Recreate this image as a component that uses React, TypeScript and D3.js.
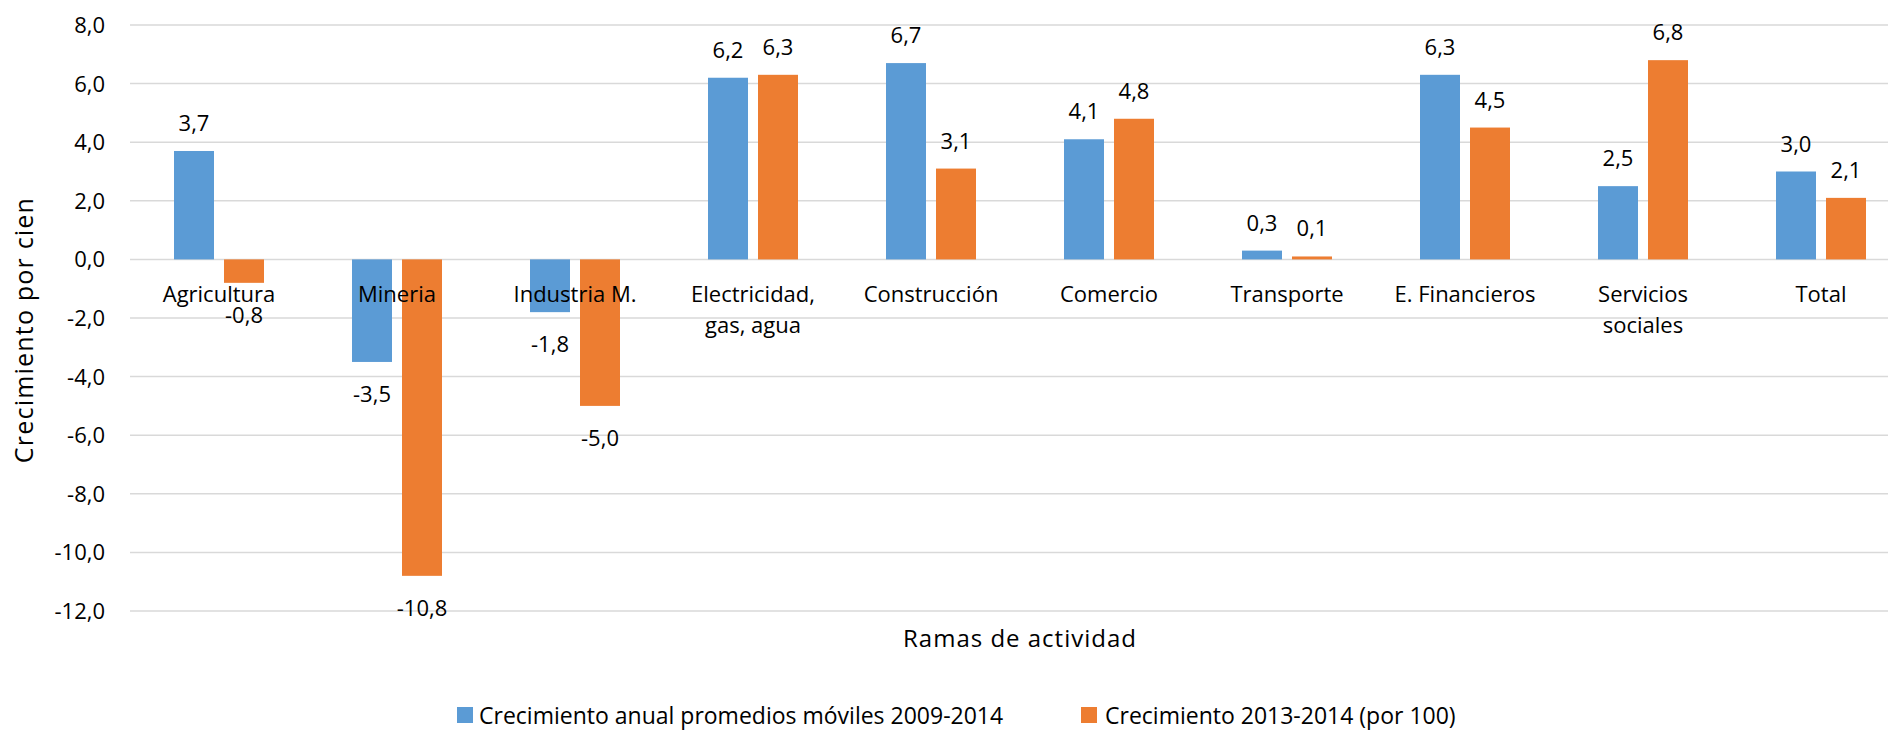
import React, { useEffect } from "react";
import * as d3 from "d3";

const categories: string[][] = [
  ["Agricultura"],
  ["Mineria"],
  ["Industria M."],
  ["Electricidad,", "gas, agua"],
  ["Construcción"],
  ["Comercio"],
  ["Transporte"],
  ["E. Financieros"],
  ["Servicios", "sociales"],
  ["Total"],
];
const seriesNames = [
  "Crecimiento anual promedios móviles 2009-2014",
  "Crecimiento 2013-2014 (por 100)",
];
const seriesA = [3.7, -3.5, -1.8, 6.2, 6.7, 4.1, 0.3, 6.3, 2.5, 3.0];
const seriesB = [-0.8, -10.8, -5.0, 6.3, 3.1, 4.8, 0.1, 4.5, 6.8, 2.1];
const yTicks = [8, 6, 4, 2, 0, -2, -4, -6, -8, -10, -12];
const colors = ["#5b9bd5", "#ed7d31"];

const W = 1888;
const H = 730;
const FONT = "'Open Sans', 'Noto Sans', sans-serif";

const fmt = (v: number) => v.toFixed(1).replace(".", ",");

export default function App() {
  useEffect(() => {
    document.body.style.margin = "0";
    document.body.style.overflow = "hidden";
  }, []);

  const keys = categories.map((c) => c.join(" "));
  const x = d3.scaleBand<string>().domain(keys).range([130, 1910]).padding(0);
  const groupW = 90;
  const inner = d3
    .scaleBand<number>()
    .domain([0, 1])
    .range([0, groupW])
    .paddingInner(0.2)
    .paddingOuter(0);
  const y = d3.scaleLinear().domain([-12, 8]).range([611, 25]);
  const y0 = y(0);

  const series = [seriesA, seriesB];

  return (
    <svg
      width={W}
      height={H}
      style={{ position: "absolute", left: 0, top: 0, background: "#fff" }}
      fontFamily={FONT}
    >
      <rect x={0} y={0} width={W} height={H} fill="#fff" />
      {yTicks.map((t) => (
        <line
          key={"g" + t}
          x1={x.range()[0]}
          x2={x.range()[1]}
          y1={y(t)}
          y2={y(t)}
          stroke="#d9d9d9"
          strokeWidth={1.5}
        />
      ))}
      {yTicks.map((t) => (
        <text
          key={"t" + t}
          x={105}
          y={y(t) + 8}
          textAnchor="end"
          fontSize={22}
          fill="#000"
        >
          {fmt(t)}
        </text>
      ))}
      {series.map((vals, si) =>
        vals.map((v, i) => {
          const bx = (x(keys[i]) as number) + (x.bandwidth() - groupW) / 2 + (inner(si) as number);
          const yv = y(v);
          const top = Math.min(yv, y0);
          const h = Math.abs(yv - y0);
          return (
            <rect
              key={"b" + si + "-" + i}
              x={bx}
              y={top}
              width={inner.bandwidth()}
              height={h}
              fill={colors[si]}
            />
          );
        })
      )}
      {categories.map((lines, i) => {
        const cx = (x(keys[i]) as number) + x.bandwidth() / 2;
        return (
          <text key={"c" + i} x={cx} y={302} textAnchor="middle" fontSize={22} fill="#000">
            {lines.map((l, li) => (
              <tspan key={li} x={cx} dy={li === 0 ? 0 : 31}>
                {l}
              </tspan>
            ))}
          </text>
        );
      })}
      {series.map((vals, si) =>
        vals.map((v, i) => {
          const cx =
            (x(keys[i]) as number) +
            (x.bandwidth() - groupW) / 2 +
            (inner(si) as number) +
            inner.bandwidth() / 2;
          const yv = y(v);
          const ly = v >= 0 ? yv - 20 : yv + 40;
          return (
            <text
              key={"v" + si + "-" + i}
              x={cx}
              y={ly}
              textAnchor="middle"
              fontSize={22}
              fill="#000"
            >
              {fmt(v)}
            </text>
          );
        })
      )}
      <text
        transform={`translate(33,330) rotate(-90)`}
        textAnchor="middle"
        fontSize={25}
        letterSpacing={1.2}
        fill="#000"
      >
        Crecimiento por cien
      </text>
      <text x={1020} y={647} textAnchor="middle" fontSize={24} letterSpacing={1} fill="#000">
        Ramas de actividad
      </text>
      <rect x={457} y={707} width={16} height={16} fill={colors[0]} />
      <text x={479} y={724} fontSize={23} fill="#000">
        {seriesNames[0]}
      </text>
      <rect x={1081} y={707} width={16} height={16} fill={colors[1]} />
      <text x={1105} y={724} fontSize={23} fill="#000">
        {seriesNames[1]}
      </text>
    </svg>
  );
}
